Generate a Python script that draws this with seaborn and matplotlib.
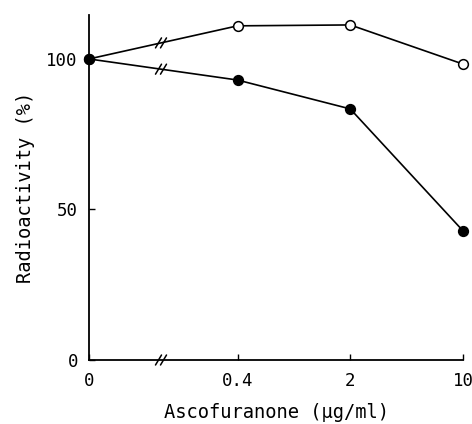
import numpy as np
import pandas as pd
import matplotlib
matplotlib.use("Agg")
import matplotlib.pyplot as plt
import seaborn as sns

conc = [0, 0.4, 2, 10]
tick_labels = ["0", "0.4", "2", "10"]
open_vals = [100, 111, 111.3, 98.3]
filled_vals = [100, 93, 83.4, 42.9]

sns.set_theme(style="ticks")
plt.rcParams['font.family'] = ['DejaVu Sans Mono', 'DejaVu Sans']

# position on axis: log10 for positive concentrations, broken axis for zero
zero_pos = -1.319
def pos(c):
    return np.log10(c) if c > 0 else zero_pos

xpos = [pos(c) for c in conc]
df = pd.DataFrame({
    "x": xpos * 2,
    "y": open_vals + filled_vals,
    "series": ["open"] * 4 + ["filled"] * 4,
})

fig = plt.figure(figsize=(4.72, 4.24), dpi=100)
ax = fig.add_axes([89/472, 64/424, 374/472, 345/424])

for name, face in [("open", "white"), ("filled", "black")]:
    sub = df[df.series == name]
    sns.lineplot(data=sub, x="x", y="y", ax=ax, color="black", linewidth=1.2,
                 marker="o", markersize=7, markerfacecolor=face,
                 markeredgecolor="black", markeredgewidth=1.1, clip_on=False,
                 zorder=3)

ax.set_xlim(zero_pos, 1.0)
ax.set_ylim(0, 114.6)
ax.set_xticks(xpos)
ax.set_xticklabels(tick_labels)
ax.set_yticks([0, 50, 100])
ax.set_yticklabels(["0", "50", "100"])
ax.tick_params(direction="in", length=4, width=1, labelsize=12.5, color="black",
               labelcolor="black")
ax.tick_params(axis="x", pad=9)
ax.tick_params(axis="y", pad=8)
for s in ["top", "right"]:
    ax.spines[s].set_visible(False)
for s in ["left", "bottom"]:
    ax.spines[s].set_linewidth(1.3)
    ax.spines[s].set_color("black")

ax.set_xlabel("Ascofuranone (μg/ml)", fontsize=13.5, labelpad=9, color="black")
ax.set_ylabel("Radioactivity (%)", fontsize=13.5, labelpad=8, color="black")

# break marks
ppx = 374 / (1.0 - zero_pos)   # px per x unit
ppy = 345 / 114.6             # px per y unit
def slashes(xc, yc):
    for off in (-2.5, 2.5):
        xs = [xc + (off - 3) / ppx, xc + (off + 3) / ppx]
        ys = [yc - 5 / ppy, yc + 5 / ppy]
        ax.plot(xs, ys, color="black", lw=1.1, clip_on=False, zorder=4)

bx = zero_pos + (161 - 89) / ppx
for series in (open_vals, filled_vals):
    yb = series[0] + (series[1] - series[0]) * (bx - xpos[0]) / (xpos[1] - xpos[0])
    slashes(bx, yb)
slashes(bx, 0)

if ax.get_legend():
    ax.get_legend().remove()

fig.savefig("out.png", dpi=100)
